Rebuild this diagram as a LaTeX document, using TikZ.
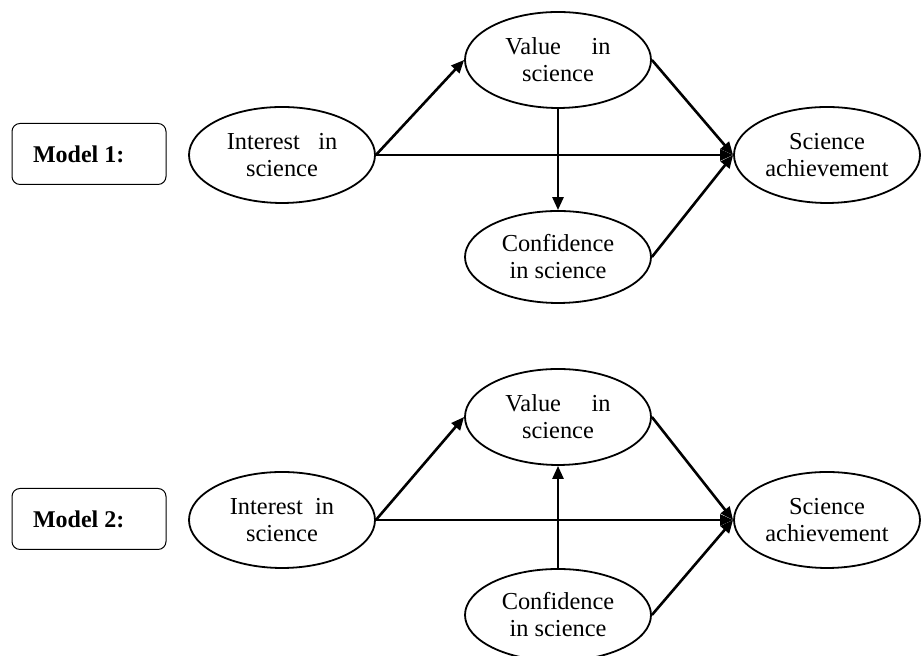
\documentclass[tikz,border=0pt]{standalone}
\usepackage{fontspec}
\setmainfont{Liberation Serif}
\usetikzlibrary{arrows.meta, shapes.geometric, positioning}

\begin{document}
\begin{tikzpicture}[x=0.5pt, y=0.5pt,
		my latent/.style = {draw, ellipse, line width=0.9pt,
					inner sep=0pt, align=center,
					minimum width=93pt, minimum height=48pt,
					font=\fontsize{12.2}{13.5}\selectfont},
		my model/.style = {draw, rounded corners=4pt, line width=0.5pt,
					text width=56pt, inner xsep=10.5pt, align=flush left,
					minimum height=30.5pt,
					font=\fontsize{12}{13.5}\selectfont\bfseries},
		my path/.style = {line width=1.3pt,
					-{Triangle[length=6.5pt, width=5.5pt]}}
                   ]

%Canvas
    \useasboundingbox (0,0) rectangle (921,656);

%Model 1 nodes
    \node[my model] (m1) at (89,502) {Model~1:};
    \node[my latent] (int1) at (282,501) {Interest\ \ \ in\\science};
    \node[my latent] (val1) at (558,596) {Value\quad\ in\\science};
    \node[my latent, minimum height=46pt] (conf1) at (558,399) {Confidence\\in science};
    \node[my latent] (sci1) at (827,501) {Science\\achievement};

%Model 1 paths
    \draw[my path] (int1.east) -- (sci1.west);
    \draw[my path] (int1.east) -- (val1.west);
    \draw[my path] (val1.south) -- (conf1.north);
    \draw[my path] (val1.east) -- (sci1.west);
    \draw[my path] (conf1.east) -- (sci1.west);

%Model 2 nodes
    \node[my model] (m2) at (89,137) {Model~2:};
    \node[my latent] (int2) at (282,136) {Interest\ \ in\\science};
    \node[my latent] (val2) at (558,239) {Value\quad\ in\\science};
    \node[my latent, minimum height=46pt] (conf2) at (558,41) {Confidence\\in science};
    \node[my latent] (sci2) at (827,136) {Science\\achievement};

%Model 2 paths
    \draw[my path] (int2.east) -- (sci2.west);
    \draw[my path] (int2.east) -- (val2.west);
    \draw[my path] (conf2.north) -- (val2.south);
    \draw[my path] (val2.east) -- (sci2.west);
    \draw[my path] (conf2.east) -- (sci2.west);

\end{tikzpicture}
\end{document}
